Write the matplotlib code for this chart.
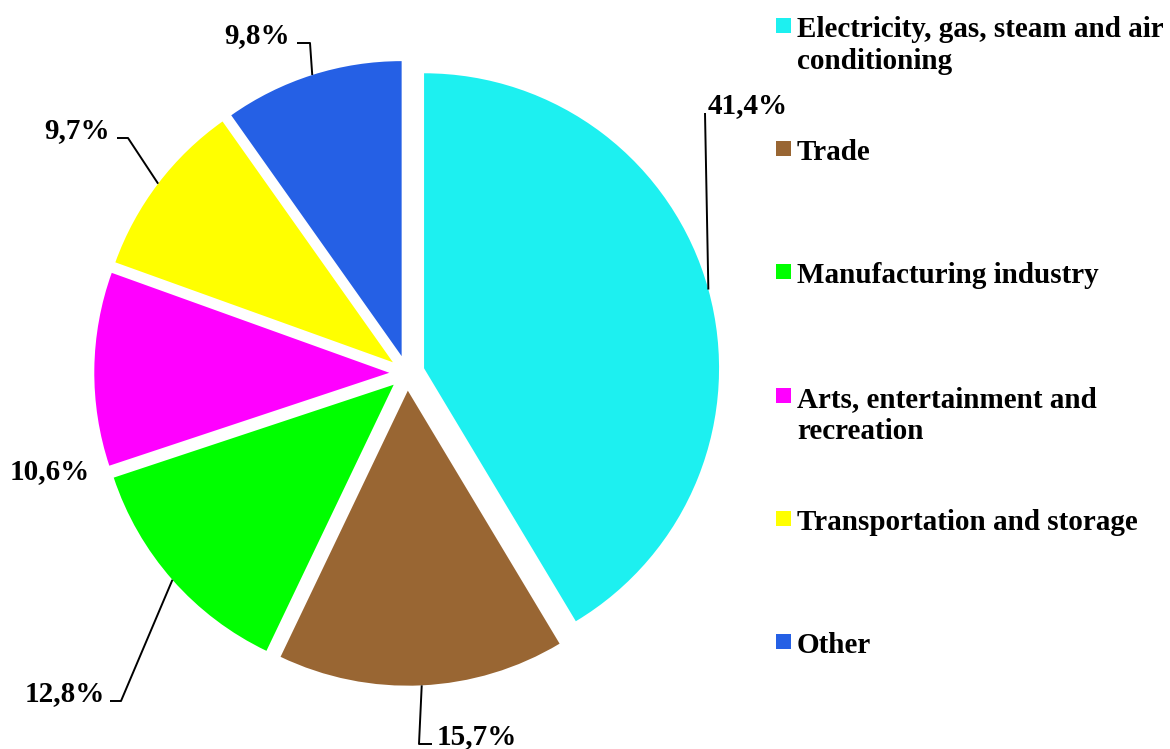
import numpy as np
import matplotlib
matplotlib.use("Agg")
import matplotlib.pyplot as plt
from matplotlib.patches import Rectangle

categories = ["Electricity, gas, steam and air\nconditioning", "Trade",
              "Manufacturing industry", "Arts, entertainment and\nrecreation",
              "Transportation and storage", "Other"]
values = [41.4, 15.7, 12.8, 10.6, 9.7, 9.8]
colors = ["#1DF0F0", "#996633", "#00FF00", "#FF00FF", "#FFFF00", "#2560E5"]

W, H, DPI = 1170, 749, 100
CX, CY, R = 407, 373, 295  # pixel layout of pie center / radius
LINE_H = 32  # legend line height in px

plt.rcParams['font.family'] = ['Liberation Serif', 'DejaVu Serif']
fig = plt.figure(figsize=(W / DPI, H / DPI), dpi=DPI)
ax = fig.add_axes([0, 0, 1, 1])

def px(x, y):
    return ((x - CX) / R, (CY - y) / R)

wedges, _ = ax.pie(values, colors=colors, startangle=90, counterclock=False,
                   explode=[0.06] * len(values), radius=1,
                   wedgeprops=dict(linewidth=0))
ax.set_xlim(-CX / R, (W - CX) / R)
ax.set_ylim(-(H - CY) / R, CY / R)
ax.set_aspect('auto')
ax.axis('off')

# label layout: (text x px, baseline y px, ha, leader path points in px after anchor)
label_layout = [
    (708, 113, 'left', [(705, 113)]),
    (437, 744, 'left', [(419, 744), (432, 744)]),
    (105, 701, 'right', [(121, 701), (110, 701)]),
    (90, 479, 'right', None),
    (110, 138, 'right', [(128, 138), (117, 138)]),
    (290, 43, 'right', [(310, 43), (297, 43)]),
]

for w, v, (tx, ty, ha, path) in zip(wedges, values, label_layout):
    thm = np.deg2rad((w.theta1 + w.theta2) / 2)
    ax_, ay_ = w.center[0] + w.r * np.cos(thm), w.center[1] + w.r * np.sin(thm)
    if path:
        pts = [(ax_, ay_)] + [px(*p) for p in path]
        xs, ys = zip(*pts)
        ax.plot(xs, ys, color='black', lw=1.4, solid_capstyle='butt')
    x, y = px(tx, ty)
    ax.text(x, y, f"{v:.1f}%".replace('.', ','), ha=ha, va='baseline',
            fontsize=21, fontweight='bold', color='black')

# legend
for i, (lab, c) in enumerate(zip(categories, colors)):
    base = 37 + i * 123.2
    nlines = lab.count('\n')
    fig.add_artist(Rectangle((776 / W, 1 - (base - 4) / H), 15 / W, 15 / H,
                             transform=fig.transFigure, facecolor=c, edgecolor='none'))
    fig.text(797 / W, 1 - (base + nlines * LINE_H) / H, lab, ha='left', va='baseline',
             fontsize=21, fontweight='bold', linespacing=1.24, color='black')

fig.savefig("out.png", dpi=DPI)
